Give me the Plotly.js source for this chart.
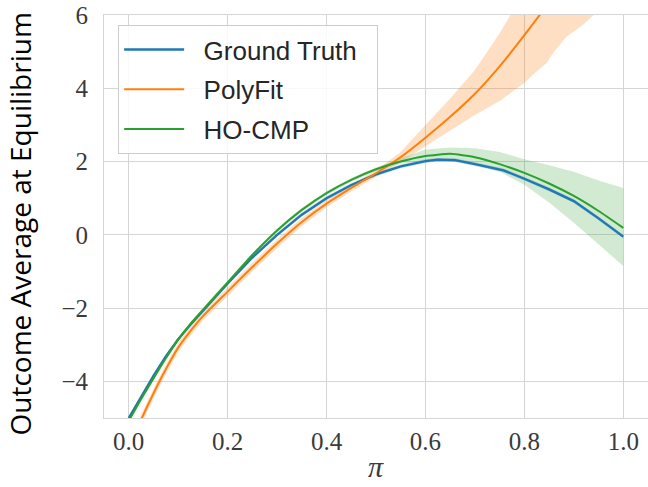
<!DOCTYPE html>
<html>
<head>
<meta charset="utf-8">
<script src="https://cdn.plot.ly/plotly-3.0.1.min.js"></script>
<style>html,body{margin:0;padding:0;background:#fff;}#chart{width:648px;height:487px;}</style>
</head>
<body>
<div id="chart"></div>
<script>
// ---- data ----
const seriesNames = ["Ground Truth", "PolyFit", "HO-CMP"];

const gtX = [0,0.025,0.05,0.075,0.1,0.125,0.15,0.2,0.25,0.3,0.35,0.4,0.45,0.5,0.55,0.6,0.625,0.66,0.7,0.758,0.8,0.85,0.9,0.95,1.0];
const gtY = [-5.0,-4.42,-3.85,-3.32,-2.85,-2.45,-2.07,-1.33,-0.62,0.0,0.55,1.0,1.36,1.65,1.87,2.01,2.05,2.04,1.93,1.76,1.53,1.24,0.92,0.45,-0.05];
const gtLo = [-5.05,-4.47,-3.9,-3.37,-2.9,-2.5,-2.12,-1.38,-0.67,-0.05,0.5,0.95,1.31,1.6,1.82,1.96,2.0,1.99,1.88,1.71,1.48,1.19,0.87,0.4,-0.1];
const gtHi = [-4.95,-4.37,-3.8,-3.27,-2.8,-2.4,-2.02,-1.28,-0.57,0.05,0.6,1.05,1.41,1.7,1.92,2.06,2.1,2.09,1.98,1.81,1.58,1.29,0.97,0.5,0.0];

const pfX = [0,0.025,0.05,0.075,0.1,0.125,0.15,0.2,0.25,0.3,0.35,0.4,0.45,0.5,0.55,0.6,0.65,0.7,0.75,0.8,0.85,0.9];
const pfY = [-5.85,-5.05,-4.33,-3.67,-3.08,-2.62,-2.22,-1.55,-0.88,-0.24,0.35,0.85,1.28,1.68,2.12,2.65,3.22,3.85,4.6,5.45,6.35,7.35];
const pfBandX = [0,0.025,0.05,0.075,0.1,0.125,0.15,0.2,0.25,0.3,0.35,0.4,0.45,0.5,0.55,0.6,0.65,0.7,0.75,0.8,0.82,0.845,0.86,0.886,0.9,0.92,0.94,0.96];
const pfHi = [-5.72,-4.92,-4.2,-3.55,-2.96,-2.5,-2.1,-1.43,-0.76,-0.12,0.46,0.95,1.37,1.76,2.26,3.0,3.72,4.5,5.5,6.65,7.1,7.7,8.0,8.6,8.9,9.4,9.9,10.4];
const pfLo = [-6.0,-5.2,-4.47,-3.8,-3.2,-2.75,-2.34,-1.67,-1.0,-0.36,0.24,0.75,1.18,1.58,1.98,2.42,2.85,3.27,3.65,4.15,4.4,4.69,5.0,5.42,5.55,5.75,6.0,6.3];

const hoX = [0,0.025,0.05,0.075,0.1,0.125,0.15,0.2,0.25,0.3,0.35,0.4,0.45,0.5,0.55,0.6,0.65,0.7,0.75,0.8,0.85,0.9,0.95,1.0];
const hoY = [-5.08,-4.48,-3.92,-3.37,-2.86,-2.43,-2.05,-1.3,-0.55,0.12,0.68,1.14,1.5,1.79,2.0,2.15,2.21,2.12,1.93,1.69,1.4,1.06,0.65,0.19];
const hoHi = [-5.03,-4.43,-3.87,-3.32,-2.81,-2.38,-2.0,-1.25,-0.5,0.17,0.73,1.19,1.55,1.84,2.08,2.33,2.38,2.36,2.26,2.06,1.9,1.72,1.48,1.28];
const hoLo = [-5.13,-4.53,-3.97,-3.42,-2.91,-2.48,-2.1,-1.35,-0.6,0.07,0.63,1.09,1.45,1.74,1.94,2.03,2.03,1.92,1.72,1.37,0.88,0.33,-0.25,-0.85];

const xTicks = [0,0.2,0.4,0.6,0.8,1.0];
const yTicks = [-4,-2,0,2,4,6];

const colors = ["#1f77b4", "#ff7f0e", "#2ca02c"];
const fills = ["rgba(31,119,180,0.25)", "rgba(255,127,14,0.25)", "rgba(44,160,44,0.22)"];

function band(x, lo, hi, fill) {
  return [
    {x: x, y: lo, mode: "lines", line: {width: 0}, showlegend: false, hoverinfo: "skip"},
    {x: x, y: hi, mode: "lines", line: {width: 0}, fill: "tonexty", fillcolor: fill, showlegend: false, hoverinfo: "skip"}
  ];
}

const pad = "\u00a0\u00a0";
const traces = [].concat(
  band(pfBandX, pfLo, pfHi, fills[1]),
  band(hoX, hoLo, hoHi, fills[2]),
  band(gtX, gtLo, gtHi, fills[0]),
  [
    {x: gtX, y: gtY, name: pad + seriesNames[0] + pad, mode: "lines", line: {color: colors[0], width: 2.3}, legendrank: 1, legendgroup: "a"},
    {x: pfX, y: pfY, name: pad + seriesNames[1], mode: "lines", line: {color: colors[1], width: 2, shape: "spline", smoothing: 0.5}, legendrank: 2, legendgroup: "b"},
    {x: hoX, y: hoY, name: pad + seriesNames[2], mode: "lines", line: {color: colors[2], width: 2, shape: "spline", smoothing: 0.5}, legendrank: 3, legendgroup: "c"}
  ]
);

const tickFont = {family: "Liberation Serif", size: 25, color: "#3a3a3a"};
const gridColor = "#d5d5d5";

const layout = {
  width: 648, height: 487,
  margin: {l: 104, r: 0, t: 15, b: 69},
  paper_bgcolor: "#fff", plot_bgcolor: "#fff",
  showlegend: true,
  xaxis: {
    range: [-0.05, 1.05], tickvals: xTicks, tickformat: ".1f",
    showgrid: true, gridcolor: gridColor, gridwidth: 1, zeroline: false,
    showline: true, mirror: true, linecolor: gridColor, linewidth: 1,
    ticks: "", tickfont: tickFont, ticklabelstandoff: 1
  },
  yaxis: {
    range: [-5, 6], tickvals: yTicks,
    showgrid: true, gridcolor: gridColor, gridwidth: 1, zeroline: false,
    showline: true, mirror: true, linecolor: gridColor, linewidth: 1,
    ticks: "", tickfont: tickFont, ticklabelstandoff: 10
  },
  legend: {
    x: 0.026, y: 0.975, xanchor: "left", yanchor: "top",
    bgcolor: "rgba(255,255,255,0.85)", bordercolor: "#cccccc", borderwidth: 1,
    font: {family: "Liberation Sans", size: 26, color: "#262626"},
    itemwidth: 60, tracegroupgap: 3
  },
  annotations: [
    {text: "Outcome Average at Equilibrium", xref: "paper", yref: "paper", x: 0, y: 0.5,
     xanchor: "center", yanchor: "middle", xshift: -85, yshift: -8, textangle: -90, showarrow: false,
     font: {family: "Open Sans", size: 28, color: "#000"}},
    {text: "<i>π</i>", xref: "paper", yref: "paper", x: 0.5, y: 0,
     xanchor: "center", yanchor: "middle", yshift: -48, showarrow: false,
     font: {family: "Liberation Serif", size: 30, color: "#3a3a3a"}}
  ]
};

Plotly.newPlot("chart", traces, layout, {displayModeBar: false, staticPlot: true});
</script>
</body>
</html>
